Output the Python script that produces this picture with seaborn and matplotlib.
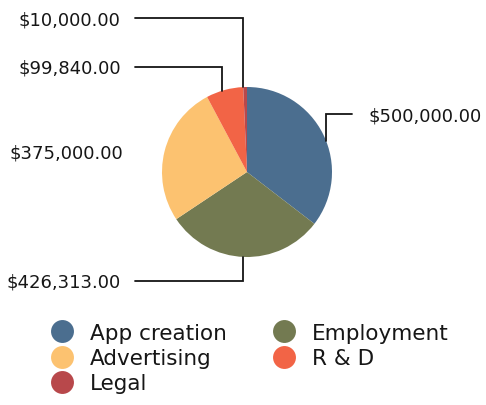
import numpy as np
import matplotlib
matplotlib.use("Agg")
import matplotlib.pyplot as plt
from matplotlib.lines import Line2D
import seaborn as sns

# Budget breakdown
categories = ["App creation", "Employment", "Advertising", "R & D", "Legal"]
amounts = [500000.00, 426313.00, 375000.00, 99840.00, 10000.00]
colors = ["#4b6e8f", "#737a51", "#fcc270", "#f26446", "#b8484b"]
value_labels = ["$500,000.00", "$426,313.00", "$375,000.00", "$99,840.00", "$10,000.00"]

sns.set_theme(style="white")
plt.rcParams["font.family"] = ["DejaVu Sans"]

W, H = 486, 406
fig = plt.figure(figsize=(W / 100, H / 100), dpi=100)
ax = fig.add_axes([0, 0, 1, 1])

# pie geometry in pixel space (y measured from the top of the canvas)
cx, cy, r = 247, 173, 85


def fy(y):
    return H - y


wedges, _ = ax.pie(amounts, colors=colors, startangle=90, counterclock=False,
                   center=(cx, fy(cy)), radius=r,
                   wedgeprops=dict(linewidth=0, antialiased=True))
ax.set_xlim(0, W)
ax.set_ylim(0, H)
ax.set_aspect("equal")
ax.axis("off")


def edge_y(x, top=True):
    d = np.sqrt(max(r ** 2 - (x - cx) ** 2, 0))
    return cy - d if top else cy + d


line_kw = dict(color="#151515", lw=1.3, solid_joinstyle="miter")
txt_kw = dict(fontsize=13, color="#161616", va="center")

# callouts: (label index, text x, text y, line start x, elbow x, top side?)
callouts = [
    (4, 18, 20, 135, 243, True),
    (3, 18, 69, 135, 222, True),
    (0, 368, 116, 352, 326, True),
    (1, 6, 283, 135, 243, False),
]
for idx, tx, ty, lx, ex, top in callouts:
    ax.text(tx, fy(ty), value_labels[idx], ha="left", **txt_kw)
    ly = ty - 1
    ey = edge_y(ex, top)
    ax.plot([lx, ex, ex], [fy(ly), fy(ly), fy(ey)], **line_kw)

# Advertising value has no leader line
ax.text(9, fy(154), value_labels[2], ha="left", **txt_kw)

# legend, filled row by row
order = [0, 2, 4, 1, 3]
handles = [Line2D([], [], marker="o", linestyle="none", markersize=16.5,
                  markerfacecolor=colors[i], markeredgewidth=0) for i in order]
labels = [categories[i] for i in order]
leg = fig.legend(handles, labels, ncol=2, loc="upper left",
                 bbox_to_anchor=(51 / W, 1 - 324 / H), frameon=False,
                 fontsize=15.5, handlelength=1.0, handletextpad=0.8,
                 labelspacing=0.24, columnspacing=2.15, borderpad=0,
                 borderaxespad=0)
for t in leg.get_texts():
    t.set_color("#161616")

fig.savefig("out.png", dpi=100, facecolor="white")
